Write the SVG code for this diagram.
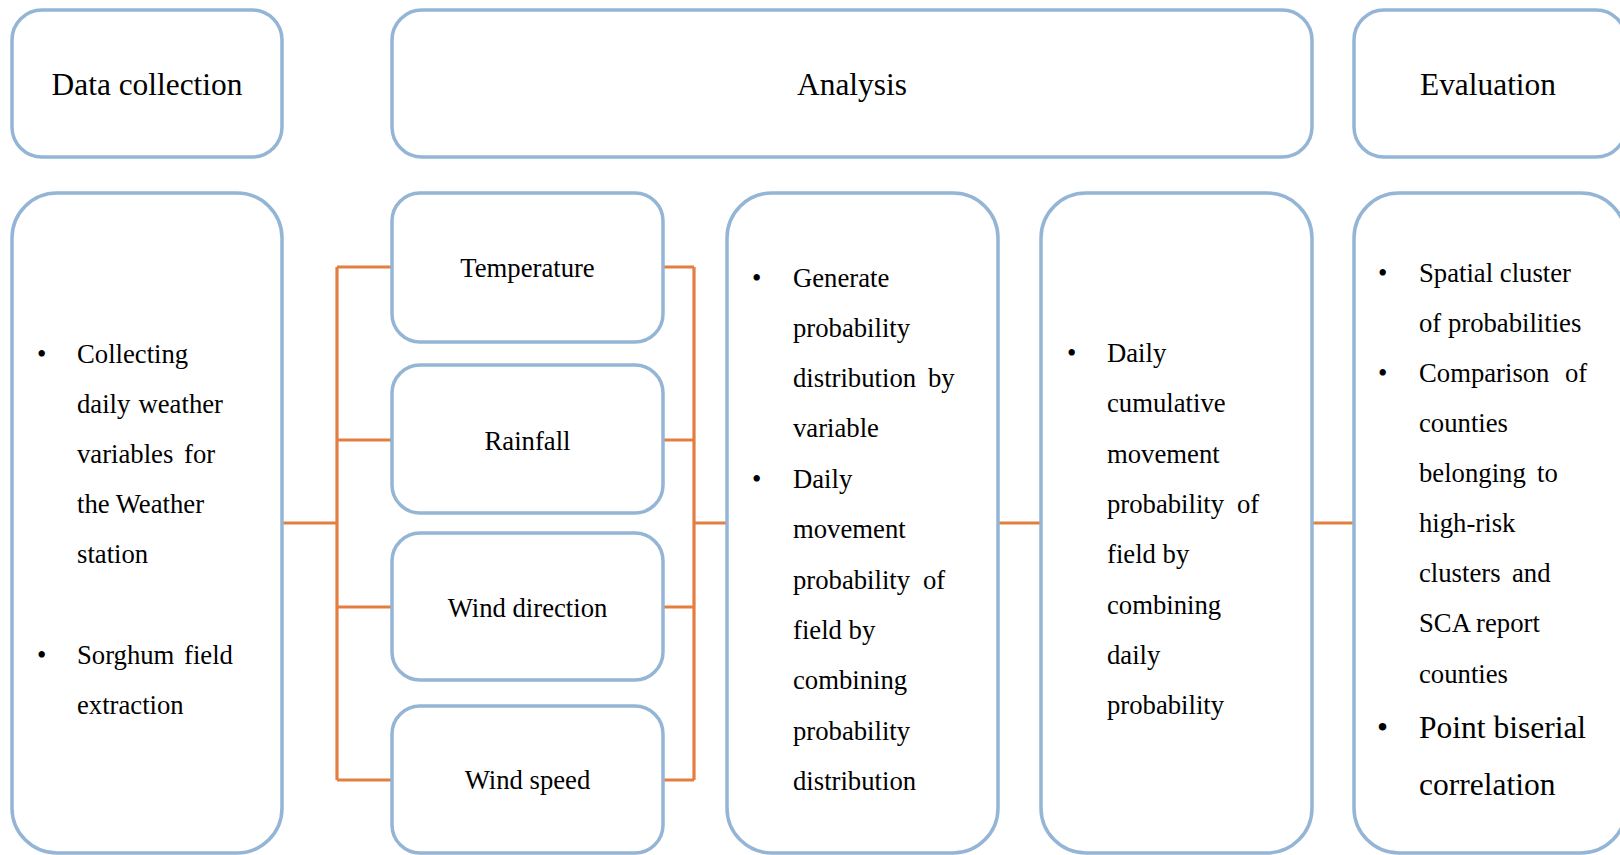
<svg xmlns="http://www.w3.org/2000/svg" width="1620" height="855" viewBox="0 0 1620 855">
<style>
.box{fill:#fff;stroke:#94B5D5;stroke-width:3.5}
.t{font-family:"Liberation Serif","Times New Roman",serif;font-size:26.7px;fill:#000}
.h{font-family:"Liberation Serif","Times New Roman",serif;font-size:31.4px;fill:#000;text-anchor:middle}
.c{text-anchor:middle}
.big{font-size:31.5px}
.conn{stroke:#E47E40;stroke-width:3.2;fill:none}
</style>
<rect width="1620" height="855" fill="#fff"/>
<g id="connectors">
<path class="conn" d="M282 523H337M337 267V780M337 267H392M337 440H392M337 607H392M337 780H392"/>
<path class="conn" d="M663 267H694M663 440H694M663 607H694M663 780H694M694 267V780M694 523H727"/>
<path class="conn" d="M998 523H1041M1312 523H1354"/>
</g>
<g id="hdr-data">
<rect class="box" x="12" y="10" width="270" height="147" rx="30"/>
<text class="h" x="147" y="95">Data collection</text>
</g>
<g id="hdr-analysis">
<rect class="box" x="392" y="10" width="920" height="147" rx="30"/>
<text class="h" x="852" y="95">Analysis</text>
</g>
<g id="hdr-eval">
<rect class="box" x="1354" y="10" width="272" height="147" rx="30"/>
<text class="h" x="1488" y="95">Evaluation</text>
</g>
<g id="data-body">
<rect class="box" x="12" y="193" width="270" height="660" rx="45"/>
<text class="t" x="37" y="363">•</text>
<text class="t" x="77" y="363">Collecting</text>
<text class="t" x="77" y="413">daily <tspan x="138.5">weather</tspan></text>
<text class="t" x="77" y="463">variables <tspan x="184">for</tspan></text>
<text class="t" x="77" y="513">the Weather</text>
<text class="t" x="77" y="563">station</text>
<text class="t" x="37" y="664">•</text>
<text class="t" x="77" y="664">Sorghum <tspan x="184">field</tspan></text>
<text class="t" x="77" y="714">extraction</text>
</g>
<g id="temperature">
<rect class="box" x="392" y="193" width="271" height="149" rx="28"/>
<text class="t c" x="527.5" y="277">Temperature</text>
</g>
<g id="rainfall">
<rect class="box" x="392" y="365" width="271" height="148" rx="28"/>
<text class="t c" x="527.5" y="450">Rainfall</text>
</g>
<g id="wind-direction">
<rect class="box" x="392" y="533" width="271" height="147" rx="28"/>
<text class="t c" x="527.5" y="617">Wind direction</text>
</g>
<g id="wind-speed">
<rect class="box" x="392" y="706" width="271" height="147" rx="28"/>
<text class="t c" x="527.5" y="789">Wind speed</text>
</g>
<g id="analysis-1">
<rect class="box" x="727" y="193" width="271" height="660" rx="45"/>
<text class="t" x="752" y="287">•</text>
<text class="t" x="793" y="287">Generate</text>
<text class="t" x="793" y="337">probability</text>
<text class="t" x="793" y="387">distribution <tspan x="928">by</tspan></text>
<text class="t" x="793" y="437">variable</text>
<text class="t" x="752" y="488">•</text>
<text class="t" x="793" y="488">Daily</text>
<text class="t" x="793" y="538">movement</text>
<text class="t" x="793" y="589">probability <tspan x="923">of</tspan></text>
<text class="t" x="793" y="639">field by</text>
<text class="t" x="793" y="689">combining</text>
<text class="t" x="793" y="740">probability</text>
<text class="t" x="793" y="790">distribution</text>
</g>
<g id="analysis-2">
<rect class="box" x="1041" y="193" width="271" height="660" rx="45"/>
<text class="t" x="1067" y="362">•</text>
<text class="t" x="1107" y="362">Daily</text>
<text class="t" x="1107" y="412">cumulative</text>
<text class="t" x="1107" y="463">movement</text>
<text class="t" x="1107" y="513">probability <tspan x="1237">of</tspan></text>
<text class="t" x="1107" y="563">field by</text>
<text class="t" x="1107" y="614">combining</text>
<text class="t" x="1107" y="664">daily</text>
<text class="t" x="1107" y="714">probability</text>
</g>
<g id="eval-body">
<rect class="box" x="1354" y="193" width="272" height="660" rx="45"/>
<text class="t" x="1378" y="282">•</text>
<text class="t" x="1419" y="282">Spatial cluster</text>
<text class="t" x="1419" y="332">of probabilities</text>
<text class="t" x="1378" y="382">•</text>
<text class="t" x="1419" y="382">Comparison <tspan x="1565">of</tspan></text>
<text class="t" x="1419" y="432">counties</text>
<text class="t" x="1419" y="482">belonging <tspan x="1537">to</tspan></text>
<text class="t" x="1419" y="532">high-risk</text>
<text class="t" x="1419" y="582">clusters <tspan x="1512">and</tspan></text>
<text class="t" x="1419" y="632">SCA report</text>
<text class="t" x="1419" y="683">counties</text>
<text class="t big" x="1377" y="738">•</text>
<text class="t big" x="1419" y="738">Point biserial</text>
<text class="t big" x="1419" y="795">correlation</text>
</g>
</svg>
